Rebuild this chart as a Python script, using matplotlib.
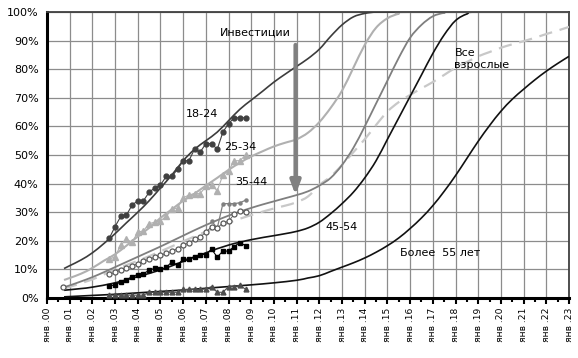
import numpy as np
import matplotlib
matplotlib.use("Agg")
import matplotlib.pyplot as plt
from matplotlib.path import Path
from matplotlib.patches import PathPatch

plt.rcParams['font.family'] = ['DejaVu Sans']

# ---------------- data ----------------
# x = years since January 2000
year_labels = ["янв .%02d" % i for i in range(24)]

# fitted / forecast curves
fit_1824_t = [0.75, 1, 1.5, 2, 2.5, 3, 3.5, 4, 4.5, 5, 5.5, 6, 6.5, 7, 7.5, 8, 8.5, 9, 9.5, 10,
              10.5, 11, 11.5, 12, 12.5, 13, 13.5, 14, 14.5, 15, 23]
fit_1824_v = [10.3, 11.3, 13.3, 15.8, 19, 22.5, 26.3, 30, 34, 38.5, 43, 48, 52, 55, 58, 62, 66, 69.2,
              72.3, 75.5, 78.3, 81, 83.7, 87, 91.5, 95.5, 98.3, 99.5, 100, 100, 100]

fit_2534_t = [0.75, 1, 1.5, 2, 2.5, 3, 3.5, 4, 4.5, 5, 5.5, 6, 6.5, 7, 7.5, 8, 8.5, 9, 9.5, 10,
              10.5, 11, 11.5, 12, 12.5, 13, 13.5, 14, 14.5, 15, 15.5, 16, 23]
fit_2534_v = [6.3, 7, 8.5, 10.5, 13, 15.3, 18.3, 21.5, 24.5, 28, 31, 34, 36.5, 39.3, 42, 44.8, 47.3,
              49.5, 51.3, 53, 54.3, 55.5, 57.8, 61.5, 66.5, 72.5, 80.5, 88.5, 94.5, 97.8, 99.4, 100, 100]

fit_3544_t = [0.75, 1, 1.5, 2, 2.5, 3, 3.5, 4, 4.5, 5, 5.5, 6, 6.5, 7, 7.5, 8, 8.5, 9, 9.5, 10,
              10.5, 11, 11.5, 12, 12.5, 13, 13.5, 14, 14.5, 15, 15.5, 16, 16.5, 17, 17.5, 18, 23]
fit_3544_v = [3.8, 4.4, 5.8, 7.3, 9, 10.8, 12.6, 14.4, 16.2, 18, 19.9, 21.8, 23.7, 25.5, 27.2, 28.8,
              30.2, 31.5, 32.7, 33.8, 34.9, 36, 37.3, 39.3, 42, 46.5, 52.5, 60, 68, 76, 84, 91,
              95.5, 98.5, 99.7, 100, 100]

fit_4554_t = [0.75, 1.5, 2, 3, 4, 5, 6, 7, 8, 9, 10, 10.5, 11, 11.5, 12, 12.5, 13, 13.5, 14, 14.5,
              15, 15.5, 16, 16.5, 17, 17.5, 18, 18.5, 19, 23]
fit_4554_v = [2.7, 3.3, 3.8, 5.3, 7.5, 9.8, 12.8, 15.8, 18.5, 20.4, 21.8, 22.5, 23.3, 24.5, 26.5,
              29.5, 33, 37, 42, 48, 55.5, 63, 70.5, 78, 85.5, 92, 97, 99.3, 100, 100]

fit_55_t = [0.75, 2, 3, 4, 5, 6, 7, 8, 9, 10, 11, 11.5, 12, 12.5, 13, 13.5, 14, 14.5, 15, 15.5, 16,
            16.5, 17, 17.5, 18, 18.5, 19, 19.5, 20, 20.5, 21, 21.5, 22, 22.5, 23]
fit_55_v = [0.4, 0.9, 1.3, 1.8, 2.3, 2.8, 3.4, 4.0, 4.6, 5.3, 6.2, 7.0, 7.8, 9.3, 10.8, 12.3, 14,
            16, 18.3, 21, 24.3, 28, 32.3, 37.3, 42.8, 48.8, 54.8, 60.3, 65.3, 69.5, 73, 76.3,
            79.3, 82, 84.5]

fit_all_t = [0.75, 2, 3, 4, 5, 6, 7, 8, 9, 10, 10.5, 11, 11.5, 12, 12.5, 13, 13.5, 14, 14.5, 15,
             15.5, 16, 16.5, 17, 17.5, 18, 18.5, 19, 19.5, 20, 20.5, 21, 21.5, 22, 22.5, 23]
fit_all_v = [3.3, 6.5, 10, 13, 16.3, 19.8, 23.2, 26.3, 29, 31.3, 32.3, 33.5, 35.5, 39.5, 42.5,
             46.5, 51, 55.5, 60.5, 65.2, 68.5, 71, 73.3, 75.5, 78, 80.5, 82.5, 84.5, 86, 87.5,
             88.7, 89.8, 91, 92.3, 93.5, 94.8]

# quarterly survey data, Oct 2002 .. Oct 2008
obs_t = np.arange(2.75, 8.76, 0.25)
obs_1824 = [21, 25, 28.5, 29, 32.5, 34, 34, 37, 38.5, 39.5, 42.5, 42.5, 45, 48, 48, 52, 51, 54,
            54, 52, 58, 61, 63, 63, 63]
obs_2534 = [13.5, 14.5, 18.5, 20.5, 19.5, 23, 23.5, 26, 26.5, 27, 28.5, 31, 31.5, 35, 36, 36.5,
            36.5, 39, 39.5, 37.5, 43, 44.5, 48, 48, 50]
obs_all = [8.3, 9.0, 9.8, 10.5, 11.3, 12.0, 12.8, 13.6, 14.3, 15.0, 15.6, 16.3, 17.3, 18.5, 19.3,
           20.5, 21.3, 23.0, 25.0, 24.4, 26.3, 26.8, 29.3, 30.3, 30.2]
obs_4554 = [4.3, 4.5, 5.7, 6.4, 7.5, 8.2, 8.5, 9.7, 10.4, 10, 10.7, 12.6, 11.5, 13.6, 13.6, 14.5,
            15.2, 15.2, 17.1, 14.3, 16.4, 16.4, 18, 19.4, 18.3]
obs_55 = [1.0, 1.0, 1.0, 1.0, 1.0, 1.0, 1.0, 2.0, 2.0, 2.0, 2.0, 2.0, 2.0, 3.0, 3.0, 3.0, 3.0,
          3.2, 4.0, 2.0, 2.0, 4.0, 4.0, 4.5, 3.0]
obs_3544_t = [7.25, 7.5, 7.75, 8.0, 8.25, 8.5, 8.75]
obs_3544 = [27.0, 24.4, 33.0, 33.0, 33.0, 33.3, 34.2]
first_all_t = [0.72]
first_all_v = [3.8]

labels_text = ["18-24", "25-34", "35-44", "45-54", "Более  55 лет", "Все\nвзрослые", "Инвестиции"]


# ---------------- helpers ----------------
def smooth_path(ax, xs, ys, **kw):
    """Excel-like smoothed line (Catmull-Rom rendered as Bezier segments)."""
    pts = ax.transData.transform(np.column_stack([xs, ys]))
    top = ax.transData.transform((0, 100))[1]
    n = len(pts)
    verts = [pts[0]]
    codes = [Path.MOVETO]
    for i in range(n - 1):
        p0 = pts[i - 1] if i > 0 else pts[i]
        p1 = pts[i]
        p2 = pts[i + 1]
        p3 = pts[i + 2] if i + 2 < n else pts[i + 1]
        c1 = p1 + (p2 - p0) / 6.0
        c2 = p2 - (p3 - p1) / 6.0
        c1[1] = min(c1[1], top)
        c2[1] = min(c2[1], top)
        verts += [c1, c2, p2]
        codes += [Path.CURVE4] * 3
    path = Path(verts, codes)
    patch = PathPatch(path, fill=False, transform=None, **kw)
    ax.add_artist(patch)
    return patch


W, H = 578, 358
fig = plt.figure(figsize=(W / 100, H / 100), dpi=100)
ax = fig.add_axes([47 / W, (H - 298) / H, (569 - 47) / W, (298 - 12) / H])
ax.set_xlim(0, 23)
ax.set_ylim(0, 100)

ax.set_xticks(range(24))
ax.set_xticklabels(year_labels, rotation=90, fontsize=6.6)
ax.set_xticks(np.arange(0.5, 23, 1.0), minor=True)
ax.tick_params(axis='x', which='major', length=4, width=1.5, direction='out', pad=3)
ax.tick_params(axis='x', which='minor', length=3, width=1.5, direction='out')
ax.set_yticks(range(0, 101, 10))
ax.set_yticklabels(["%d%%" % v for v in range(0, 101, 10)], fontsize=8)
ax.tick_params(axis='y', length=0, pad=6)

ax.grid(True, which='major', color='#8c8c8c', lw=0.9)
ax.set_axisbelow(True)
for s in ['left', 'bottom']:
    ax.spines[s].set_color('black')
    ax.spines[s].set_linewidth(2.2)
for s in ['top', 'right']:
    ax.spines[s].set_color('#404040')
    ax.spines[s].set_linewidth(1.3)

# fits
fig.canvas.draw()
smooth_path(ax, fit_all_t, fit_all_v, edgecolor='#c8c8c8', lw=1.6, linestyle=(0, (6, 3.5)), zorder=3)
smooth_path(ax, fit_55_t, fit_55_v, edgecolor='#111111', lw=1.2, zorder=3)
smooth_path(ax, fit_4554_t, fit_4554_v, edgecolor='#111111', lw=1.2, zorder=3)
smooth_path(ax, fit_3544_t, fit_3544_v, edgecolor='#7f7f7f', lw=1.3, zorder=3)
smooth_path(ax, fit_2534_t, fit_2534_v, edgecolor='#b0b0b0', lw=1.5, zorder=3)
smooth_path(ax, fit_1824_t, fit_1824_v, edgecolor='#3c3c3c', lw=1.2, zorder=3)

# observations
ax.plot(obs_t, obs_55, color='#4d4d4d', lw=0.8, marker='^', ms=3.5, zorder=4)
ax.plot(obs_t, obs_4554, color='black', lw=0.8, marker='s', ms=3.5, zorder=4)
ax.plot(obs_3544_t, obs_3544, color='#808080', lw=0.9, marker='o', ms=2.2, zorder=4)
ax.plot(obs_t, obs_all, color='#595959', lw=0.6, marker='o', ms=3.6, mfc='white',
        mec='#595959', mew=0.9, zorder=5)
ax.plot(first_all_t, first_all_v, ls='none', marker='o', ms=3.6, mfc='white',
        mec='#595959', mew=0.9, zorder=5)
ax.plot(obs_t, obs_2534, color='#b0b0b0', lw=0.8, marker='^', ms=3.8, zorder=4)
ax.plot(obs_t, obs_1824, color='#404040', lw=0.8, marker='o', ms=3.5, zorder=4)

# arrow
ax.annotate("", xy=(10.95, 36.0), xytext=(10.95, 88.5),
            arrowprops=dict(arrowstyle='-|>,head_length=0.8,head_width=0.3',
                            color='#808080', lw=3.0, shrinkA=0, shrinkB=0), zorder=6)

fs = 8
ax.text(9.2, 93.0, labels_text[6], fontsize=fs, ha='center', va='center', zorder=7)
ax.text(6.85, 64.5, labels_text[0], fontsize=fs, ha='center', va='center', zorder=7)
ax.text(8.5, 52.8, labels_text[1], fontsize=fs, ha='center', va='center', zorder=7)
ax.text(9.0, 40.5, labels_text[2], fontsize=fs, ha='center', va='center', zorder=7)
ax.text(13.0, 24.8, labels_text[3], fontsize=fs, ha='center', va='center', zorder=7)
ax.text(17.3, 15.8, labels_text[4], fontsize=fs, ha='center', va='center', zorder=7)
ax.text(17.95, 83.5, labels_text[5], fontsize=fs, ha='left', va='center', linespacing=1.25, zorder=7)

fig.savefig("out.png", dpi=100)
